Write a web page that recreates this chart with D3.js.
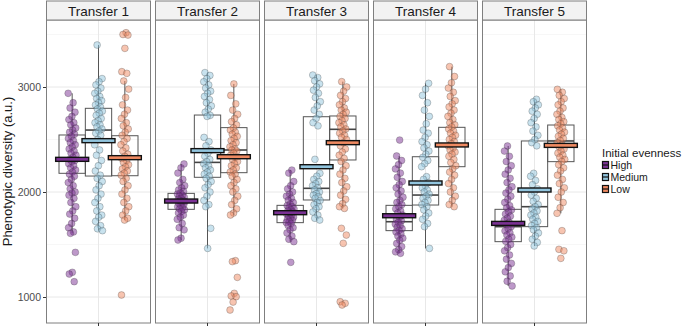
<!DOCTYPE html>
<html>
<head>
<meta charset="utf-8">
<script src="https://cdn.jsdelivr.net/npm/d3@7"></script>
<style>
  body { margin: 0; background: #fff; }
  text { font-family: "Liberation Sans", Arial, sans-serif; }
</style>
</head>
<body>
<svg id="chart" width="685" height="327"></svg>
<script>
const transfers = ["Transfer 1", "Transfer 2", "Transfer 3", "Transfer 4", "Transfer 5"];
const groups = ["High", "Medium", "Low"];
const yTicks = [1000, 2000, 3000];
const yMinor = [1500, 2500, 3500];

// box stats per group (rows: High, Medium, Low), per transfer
const whiskerLo = [[1606, 1543, 1527, 1416, 1105], [1632, 1463, 1733, 1463, 1486], [1733, 1781, 1844, 1860, 1797]];
const lowerQ = [[2178, 1835, 1708, 1632, 1527], [2152, 2140, 1924, 1876, 1670], [2155, 2184, 2305, 2241, 2289]];
const medians = [[2311, 1914, 1800, 1717, 1670], [2590, 2282, 2035, 1971, 1860], [2330, 2400, 2597, 2440, 2486]];
const upperQ = [[2543, 1987, 1873, 1873, 1835], [2797, 2733, 2717, 2336, 2486], [2536, 2613, 2724, 2616, 2638]];
const whiskerHi = [[2940, 2267, 2209, 2343, 2438], [3400, 3137, 3114, 3035, 2883], [3057, 3029, 3051, 3194, 2978]];
const means = [[2311, 1914, 1803, 1774, 1701], [2489, 2394, 2241, 2086, 2019], [2327, 2336, 2470, 2448, 2444]];

const pointsHigh = [
  [2940, 2850, 2800, 2760, 2720, 2690, 2660, 2640, 2610, 2590, 2570, 2550, 2530, 2510, 2490, 2470, 2450, 2430, 2410, 2390, 2370, 2350, 2330, 2310, 2300, 2290, 2270, 2250, 2230, 2210, 2190, 2170, 2150, 2120, 2090, 2060, 2030, 2000, 1990, 1970, 1940, 1900, 1860, 1820, 1790, 1750, 1700, 1660, 1620, 1606, 1425, 1235, 1219, 1146],
  [2267, 2230, 2180, 2120, 2090, 2060, 2040, 2020, 2005, 1990, 1980, 1970, 1960, 1950, 1940, 1930, 1920, 1915, 1910, 1900, 1890, 1880, 1870, 1860, 1850, 1840, 1830, 1815, 1800, 1780, 1760, 1740, 1700, 1660, 1640, 1560, 1543],
  [2209, 2180, 2100, 2060, 2030, 2000, 1980, 1960, 1940, 1920, 1900, 1885, 1870, 1860, 1850, 1840, 1830, 1820, 1810, 1800, 1790, 1780, 1770, 1760, 1750, 1740, 1730, 1720, 1710, 1700, 1680, 1660, 1640, 1610, 1580, 1550, 1527, 1330],
  [2495, 2343, 2300, 2260, 2220, 2180, 2140, 2100, 2070, 2040, 2010, 1980, 1950, 1920, 1900, 1880, 1860, 1840, 1820, 1800, 1780, 1760, 1740, 1725, 1710, 1695, 1680, 1665, 1650, 1635, 1620, 1600, 1580, 1560, 1540, 1510, 1480, 1450, 1430, 1416],
  [2438, 2390, 2340, 2290, 2250, 2210, 2170, 2130, 2090, 2050, 2020, 1990, 1960, 1930, 1900, 1870, 1850, 1830, 1810, 1790, 1770, 1750, 1730, 1710, 1690, 1670, 1650, 1630, 1610, 1590, 1570, 1550, 1530, 1500, 1470, 1440, 1400, 1360, 1320, 1280, 1240, 1200, 1150, 1105]
];
const pointsMedium = [
  [3400, 3080, 3050, 3020, 2990, 2960, 2940, 2910, 2890, 2870, 2850, 2830, 2810, 2790, 2770, 2750, 2730, 2700, 2680, 2660, 2640, 2620, 2600, 2580, 2560, 2540, 2500, 2450, 2400, 2350, 2300, 2250, 2200, 2160, 2130, 2100, 2060, 2020, 1980, 1940, 1900, 1860, 1820, 1780, 1760, 1720, 1680, 1650, 1632],
  [3137, 3110, 3080, 3050, 3020, 2990, 2960, 2940, 2910, 2880, 2850, 2820, 2790, 2760, 2730, 2720, 2520, 2480, 2440, 2400, 2370, 2340, 2310, 2290, 2270, 2250, 2230, 2210, 2190, 2170, 2150, 2130, 2100, 2070, 2040, 2000, 1960, 1920, 1880, 1860, 1654, 1463],
  [3114, 3090, 3060, 3030, 3000, 2970, 2940, 2900, 2860, 2820, 2780, 2740, 2700, 2660, 2630, 2311, 2178, 2150, 2120, 2100, 2080, 2060, 2040, 2020, 2000, 1985, 1970, 1955, 1940, 1920, 1900, 1880, 1860, 1840, 1810, 1780, 1750, 1733],
  [3035, 2980, 2920, 2850, 2780, 2720, 2650, 2590, 2560, 2520, 2480, 2450, 2420, 2390, 2360, 2330, 2300, 2270, 2241, 2146, 2120, 2090, 2060, 2040, 2020, 2000, 1980, 1960, 1940, 1920, 1900, 1880, 1860, 1830, 1800, 1770, 1740, 1700, 1670, 1463],
  [2883, 2860, 2830, 2800, 2770, 2740, 2700, 2660, 2620, 2580, 2540, 2500, 2470, 2440, 2178, 2150, 2110, 2070, 2030, 2000, 1970, 1940, 1910, 1880, 1860, 1840, 1820, 1800, 1780, 1760, 1740, 1720, 1700, 1680, 1660, 1640, 1610, 1580, 1550, 1520, 1486]
];
const pointsLow = [
  [3517, 3500, 3495, 3368, 3146, 3130, 3057, 2980, 2900, 2830, 2780, 2740, 2700, 2660, 2630, 2600, 2570, 2540, 2510, 2480, 2450, 2420, 2390, 2360, 2340, 2320, 2300, 2280, 2260, 2240, 2220, 2200, 2180, 2160, 2130, 2100, 2060, 2020, 1980, 1940, 1900, 1860, 1820, 1780, 1750, 1733, 1019],
  [3029, 2920, 2840, 2780, 2740, 2700, 2670, 2640, 2610, 2590, 2570, 2550, 2530, 2510, 2490, 2470, 2450, 2430, 2410, 2400, 2390, 2370, 2350, 2330, 2310, 2290, 2270, 2250, 2230, 2210, 2190, 2170, 2150, 2120, 2090, 2060, 2030, 2000, 1960, 1920, 1880, 1840, 1800, 1781, 1346, 1337, 1187, 1035, 1010, 1003, 952, 876],
  [3051, 3000, 2960, 2920, 2890, 2860, 2830, 2800, 2780, 2760, 2740, 2720, 2700, 2680, 2660, 2640, 2620, 2600, 2580, 2560, 2540, 2520, 2500, 2470, 2440, 2410, 2380, 2350, 2320, 2290, 2250, 2210, 2170, 2130, 2090, 2050, 2010, 1970, 1930, 1890, 1860, 1844, 1654, 1590, 1511, 955, 940, 924],
  [3194, 3100, 3040, 2990, 2950, 2910, 2870, 2840, 2810, 2780, 2750, 2720, 2690, 2660, 2640, 2620, 2600, 2580, 2560, 2540, 2520, 2500, 2480, 2460, 2440, 2420, 2400, 2380, 2360, 2340, 2310, 2280, 2250, 2220, 2190, 2160, 2120, 2080, 2040, 2000, 1960, 1920, 1880, 1860],
  [2978, 2950, 2920, 2890, 2860, 2830, 2800, 2770, 2740, 2710, 2690, 2670, 2650, 2630, 2610, 2590, 2570, 2550, 2530, 2510, 2490, 2470, 2450, 2430, 2410, 2390, 2370, 2350, 2330, 2310, 2290, 2260, 2230, 2200, 2160, 2120, 2080, 2040, 2000, 1950, 1900, 1850, 1797, 1632, 1454, 1440, 1368]
];
const pointSets = [pointsHigh, pointsMedium, pointsLow];

const color = d3.scaleOrdinal().domain(groups).range(["#7B3294", "#92C5DE", "#EF8A62"]);

const svg = d3.select("#chart");
const panelTop = 20, panelBottom = 323, stripTop = 1;

const panelX = d3.scaleBand().domain(transfers).range([46, 587]).paddingInner(4 / 109);
const pw = panelX.bandwidth();
const groupX = d3.scaleBand().domain(groups).range([13, pw - 13]);
const gw = groupX.bandwidth();
const y = d3.scaleLinear().domain([1000, 3000]).range([297, 87]);

// deterministic jitter offset (position only)
const jitter = i => (((i * 0.6180339887) % 1) - 0.5) * 8;

transfers.forEach((t, ti) => {
  const p = svg.append("g").attr("transform", `translate(${panelX(t)},0)`);

  p.append("rect").attr("x", 0).attr("y", panelTop).attr("width", pw)
    .attr("height", panelBottom - panelTop).attr("fill", "#fff");

  p.selectAll(".minor").data(yMinor).join("line")
    .attr("x1", 0).attr("x2", pw).attr("y1", d => y(d)).attr("y2", d => y(d))
    .attr("stroke", "#F4F4F4").attr("stroke-width", 0.7);
  p.selectAll(".major").data(yTicks).join("line")
    .attr("x1", 0).attr("x2", pw).attr("y1", d => y(d)).attr("y2", d => y(d))
    .attr("stroke", "#E8E8E8").attr("stroke-width", 1);
  p.append("line").attr("x1", pw / 2).attr("x2", pw / 2)
    .attr("y1", panelTop).attr("y2", panelBottom)
    .attr("stroke", "#E8E8E8").attr("stroke-width", 1);

  groups.forEach((g, gi) => {
    const cx = groupX(g) + gw / 2;
    // whiskers
    p.append("line").attr("x1", cx).attr("x2", cx)
      .attr("y1", y(upperQ[gi][ti])).attr("y2", y(whiskerHi[gi][ti]))
      .attr("stroke", "#555").attr("stroke-width", 1);
    p.append("line").attr("x1", cx).attr("x2", cx)
      .attr("y1", y(lowerQ[gi][ti])).attr("y2", y(whiskerLo[gi][ti]))
      .attr("stroke", "#555").attr("stroke-width", 1);
    p.append("rect").attr("x", groupX(g)).attr("width", gw)
      .attr("y", y(upperQ[gi][ti])).attr("height", y(lowerQ[gi][ti]) - y(upperQ[gi][ti]))
      .attr("fill", "none").attr("stroke", "#555").attr("stroke-width", 1);
    p.append("line").attr("x1", groupX(g)).attr("x2", groupX(g) + gw)
      .attr("y1", y(medians[gi][ti])).attr("y2", y(medians[gi][ti]))
      .attr("stroke", "#444").attr("stroke-width", 1.6);
  });

  groups.forEach((g, gi) => {
    const cx = groupX(g) + gw / 2;
    p.selectAll(null).data(pointSets[gi][ti]).join("circle")
      .attr("cx", (d, i) => cx + jitter(i + gi * 7 + ti * 3))
      .attr("cy", d => y(d))
      .attr("r", 3.4)
      .attr("fill", color(g)).attr("fill-opacity", 0.5)
      .attr("stroke", "#333").attr("stroke-opacity", 0.45).attr("stroke-width", 0.6);
  });

  groups.forEach((g, gi) => {
    const cx = groupX(g) + gw / 2;
    p.append("rect").attr("x", cx - 16.5).attr("width", 33)
      .attr("y", y(means[gi][ti]) - 2).attr("height", 4)
      .attr("fill", color(g)).attr("stroke", "#111").attr("stroke-width", 1.4);
  });

  p.append("rect").attr("x", 0.5).attr("y", panelTop).attr("width", pw - 1)
    .attr("height", panelBottom - panelTop).attr("fill", "none")
    .attr("stroke", "#7F7F7F").attr("stroke-width", 1);

  p.append("rect").attr("x", 0.5).attr("y", stripTop).attr("width", pw - 1)
    .attr("height", panelTop - stripTop).attr("fill", "#F2F2F2")
    .attr("stroke", "#7F7F7F").attr("stroke-width", 1);
  p.append("text").attr("x", pw / 2).attr("y", 15.5).attr("text-anchor", "middle")
    .style("font-size", "13.5px").attr("fill", "#1A1A1A").text(t);
});

// y axis
const yAxis = svg.append("g").attr("transform", "translate(46,0)")
  .call(d3.axisLeft(y).tickValues(yTicks).tickFormat(d3.format("d")).tickSize(3).tickPadding(2));
yAxis.select(".domain").remove();
yAxis.selectAll("line").attr("stroke", "#333");
yAxis.selectAll("text").attr("fill", "#4D4D4D").style("font-size", "10.5px")
  .style("font-family", "Liberation Sans, Arial, sans-serif");

// x ticks, one per panel
const xAxis = svg.append("g").attr("transform", `translate(0,${panelBottom})`)
  .call(d3.axisBottom(panelX).tickSize(3).tickFormat(""));
xAxis.select(".domain").remove();
xAxis.selectAll("line").attr("stroke", "#333");

svg.append("text").attr("transform", "translate(12,171.5) rotate(-90)")
  .attr("text-anchor", "middle").style("font-size", "13px").attr("fill", "#1A1A1A")
  .text("Phenotypic diversity (a.u.)");

// legend
const lg = svg.append("g").attr("transform", "translate(602,0)");
lg.append("text").attr("x", 0).attr("y", 157).style("font-size", "11.5px")
  .attr("fill", "#1A1A1A").text("Initial evenness");
groups.forEach((g, i) => {
  const cy = 165 + i * 12;
  lg.append("rect").attr("x", 0.5).attr("y", cy - 3.5).attr("width", 6).attr("height", 7)
    .attr("fill", color(g)).attr("stroke", "#111").attr("stroke-width", 1.2);
  lg.append("line").attr("x1", 0.5).attr("x2", 6.5).attr("y1", cy).attr("y2", cy)
    .attr("stroke", "#111").attr("stroke-width", 1.2);
  lg.append("text").attr("x", 8.5).attr("y", cy + 3.8).style("font-size", "10.5px")
    .attr("fill", "#1A1A1A").text(g);
});
</script>
</body>
</html>
